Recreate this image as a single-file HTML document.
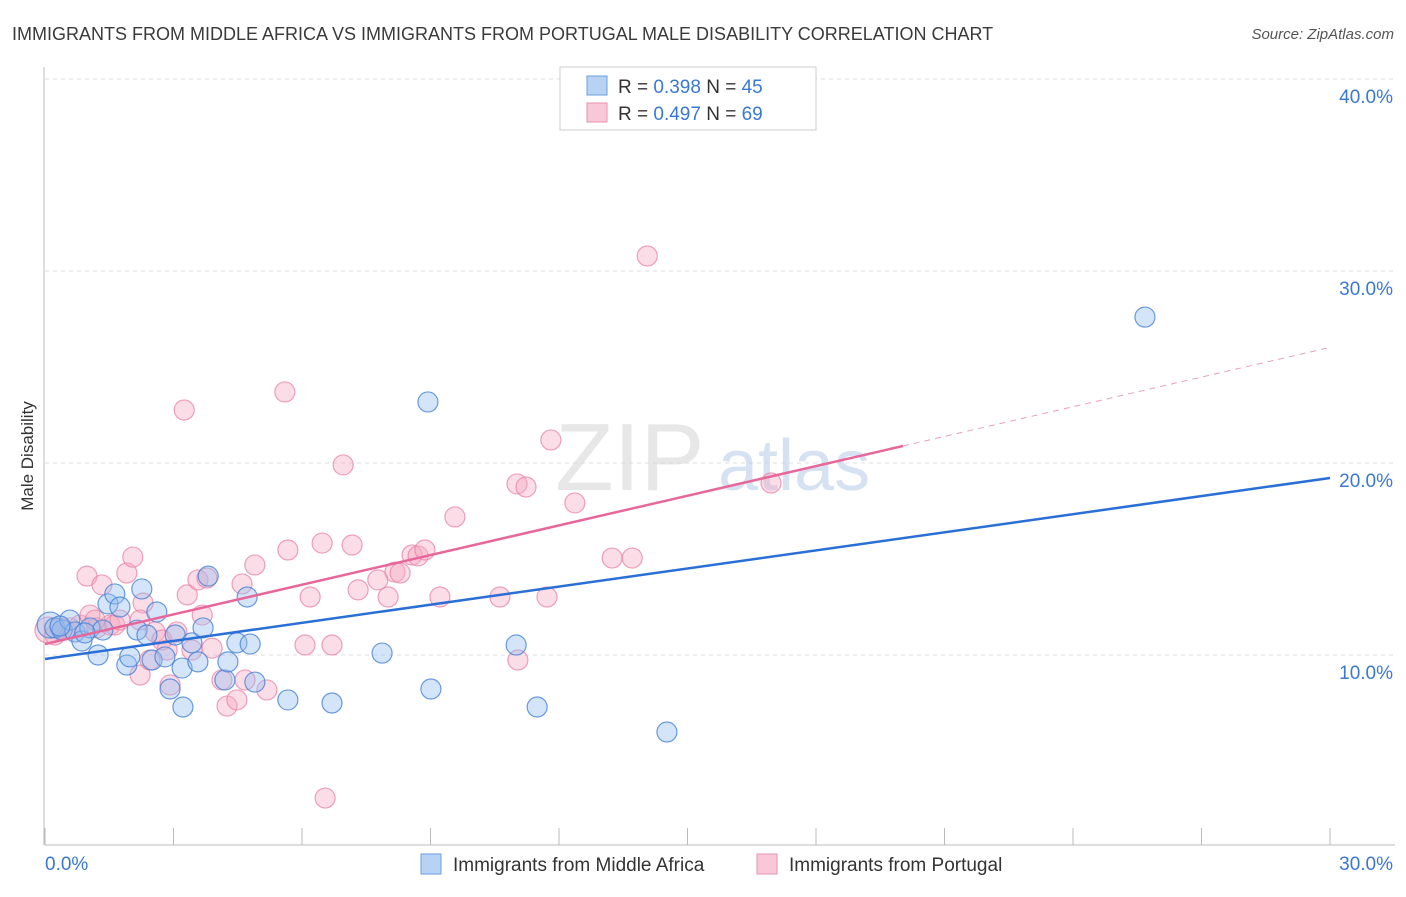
<!DOCTYPE html>
<html><head><meta charset="utf-8"><style>
body{margin:0;background:#fff;font-family:"Liberation Sans",sans-serif;}
svg text{font-family:"Liberation Sans",sans-serif;}
</style></head><body>
<svg id="chart" width="1406" height="892" viewBox="0 0 1406 892" xmlns="http://www.w3.org/2000/svg">
<text x="12" y="40" font-size="18" fill="#3a3a3a">IMMIGRANTS FROM MIDDLE AFRICA VS IMMIGRANTS FROM PORTUGAL MALE DISABILITY CORRELATION CHART</text>
<text x="1394" y="39" font-size="15" fill="#555" font-style="italic" text-anchor="end">Source: ZipAtlas.com</text>
<text transform="translate(33,456) rotate(-90)" font-size="17" fill="#333" text-anchor="middle">Male Disability</text>
<g id="grid"></g>
<text x="555" y="490" font-size="96" fill="#d8d8d8" font-family="Liberation Serif" opacity="0.6">ZIP</text>
<text x="718" y="490" font-size="72" fill="#bcd0ea" opacity="0.6">atlas</text>
<g id="marks"></g>
<g id="lines"></g>
<g>
<rect x="560" y="67" width="256" height="63" fill="#fff" stroke="#ccc"/>
<rect x="587" y="76" width="20" height="19" fill="#b8d2f4" stroke="#6a9ee0"/>
<rect x="587" y="103" width="20" height="19" fill="#f8c8d8" stroke="#e890b0"/>
<text x="618" y="93" font-size="19" fill="#333">R = <tspan fill="#3a78d6">0.398</tspan>   N = <tspan fill="#3a78d6">45</tspan></text>
<text x="618" y="120" font-size="19" fill="#333">R = <tspan fill="#3a78d6">0.497</tspan>   N = <tspan fill="#3a78d6">69</tspan></text>
</g>
<g>
<rect x="421" y="854" width="20" height="20" fill="#b8d2f4" stroke="#6a9ee0"/>
<text x="453" y="871" font-size="19" fill="#333">Immigrants from Middle Africa</text>
<rect x="757" y="854" width="20" height="20" fill="#f8c8d8" stroke="#e890b0"/>
<text x="789" y="871" font-size="19" fill="#333">Immigrants from Portugal</text>
</g>
</svg>
<script>
const xTickLabels=["0.0%","30.0%"];
const yTicks=[10,20,30,40];
const blueX=[0.12,0.23,0.40,0.58,0.70,0.86,1.05,1.24,1.35,1.47,1.63,1.75,1.91,1.98,2.15,2.26,2.38,2.50,2.61,2.80,2.92,3.04,3.20,3.22,3.43,3.57,3.69,3.81,4.20,4.27,4.48,4.72,4.79,4.90,5.67,6.70,7.87,8.94,9.01,11.00,11.49,14.52,25.68,0.35,0.93];
const blueY=[11.56,11.41,11.30,11.82,11.20,10.73,11.41,10.00,11.30,12.66,13.18,12.50,9.48,9.90,11.30,13.44,11.04,9.74,12.24,9.90,8.23,11.04,9.32,7.29,10.63,9.64,11.41,14.11,8.70,9.64,10.63,13.02,10.57,8.59,7.66,7.50,10.10,23.18,8.23,10.52,7.29,5.99,27.60,11.51,11.15];
const pinkX=[0.07,0.23,0.47,0.82,0.98,1.05,1.21,1.33,1.52,1.63,1.75,1.91,2.05,2.22,2.29,2.45,2.57,2.73,2.85,2.92,3.08,3.25,3.32,3.43,3.57,3.67,3.78,3.90,4.13,4.25,4.48,4.60,4.67,4.90,5.18,5.60,5.67,6.07,6.19,6.47,6.70,6.96,7.17,7.31,7.77,8.01,8.17,8.29,8.57,8.71,8.87,9.22,9.57,10.62,11.02,11.04,11.23,11.72,11.81,12.37,13.24,13.71,14.06,16.95,6.54,0.35,0.58,2.22,1.17];
const pinkY=[11.30,11.04,11.30,11.56,14.11,12.08,11.41,13.65,11.56,11.56,11.82,14.27,15.10,8.96,12.71,9.74,11.20,10.78,10.26,8.44,11.20,22.76,13.13,10.26,13.91,12.08,14.01,10.36,8.70,7.34,7.66,13.70,8.70,14.69,8.18,23.70,15.47,10.52,13.02,15.83,10.52,19.90,15.73,13.39,13.91,13.02,14.32,14.27,15.21,15.16,15.47,13.02,17.19,13.02,18.91,9.74,18.75,13.02,21.20,17.92,15.05,15.05,30.78,18.96,2.55,11.41,11.41,11.82,11.82];
const blueTrend=[9.79,19.22];
const pinkTrend=[10.57,26.02];
const pinkSolidEnd=20.03;

const NS="http://www.w3.org/2000/svg";
const X0=45,X1=1330,Y0=847,PXY=19.2;
function sx(v){return X0+(v/30)*(X1-X0);}
function sy(v){return Y0-v*PXY;}
function mk(tag,attrs,parent){const e=document.createElementNS(NS,tag);for(const k in attrs)e.setAttribute(k,attrs[k]);parent.appendChild(e);return e;}
const grid=document.getElementById('grid');
const svg=document.getElementById('chart');
yTicks.forEach(t=>{
  const l=mk('line',{x1:45,x2:1395,y1:sy(t),y2:sy(t),stroke:'#ddd','stroke-dasharray':'4,4'},grid);
  
  
  const tx=mk('text',{x:1393,y:sy(t)+24,'font-size':19,fill:'#3a78d6','text-anchor':'end'},grid);
  
  
  tx.textContent=t.toFixed(1)+'%';
});
const ax=mk('line',{x1:45,x2:1395,y1:845,y2:845,stroke:'#bbb'},grid);


const ay=mk('line',{x1:44,x2:44,y1:67,y2:845,stroke:'#bbb'},grid);


for(let i=0;i<=10;i++){
  const t=mk('line',{x1:sx(i*3),x2:sx(i*3),y1:828,y2:845,stroke:'#bbb'},grid);
  
  
}
const xl0=mk('text',{x:45,y:870,'font-size':19,fill:'#3a78d6'},grid);


xl0.textContent=xTickLabels[0];
const xl1=mk('text',{x:1393,y:870,'font-size':19,fill:'#3a78d6','text-anchor':'end'},grid);


xl1.textContent=xTickLabels[1];

const marks=document.getElementById('marks');
pinkX.forEach((v,i)=>{
  const c=mk('circle',{cx:sx(v),cy:sy(pinkY[i]),r:i===0?13:10,fill:'rgba(245,170,195,0.4)',stroke:'rgba(232,130,165,0.75)','stroke-width':1.2},marks);
  
  
});
blueX.forEach((v,i)=>{
  const c=mk('circle',{cx:sx(v),cy:sy(blueY[i]),r:i===0?13:10,fill:'rgba(150,190,240,0.4)',stroke:'rgba(70,130,215,0.8)','stroke-width':1.2},marks);
  
  
});
const lines=document.getElementById('lines');
const bl=mk('line',{x1:sx(0),y1:sy(blueTrend[0]),x2:sx(30),y2:sy(blueTrend[1]),stroke:'#2a6fd6','stroke-width':2.5},lines);


const pm=pinkTrend[0]+(pinkTrend[1]-pinkTrend[0])*pinkSolidEnd/30;
const pl=mk('line',{x1:sx(0),y1:sy(pinkTrend[0]),x2:sx(pinkSolidEnd),y2:sy(pm),stroke:'#e8679a','stroke-width':2.5},lines);


const pd=mk('line',{x1:sx(pinkSolidEnd),y1:sy(pm),x2:sx(30),y2:sy(pinkTrend[1]),stroke:'#e8a0bc','stroke-width':1,'stroke-dasharray':'6,5'},lines);


</script>
</body></html>
